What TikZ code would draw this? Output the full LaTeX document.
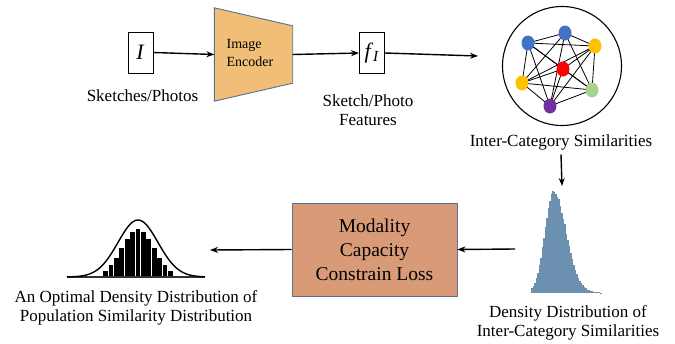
\documentclass[tikz,border=0pt]{standalone}
\usepackage{fontspec}
\setmainfont{Liberation Serif}
\usetikzlibrary{shapes.geometric,arrows,arrows.meta,positioning,calc,backgrounds}

\definecolor{encfill}{HTML}{F0BE76}
\definecolor{lossfill}{HTML}{D99A78}
\definecolor{edgeblue}{HTML}{5A6E96}
\definecolor{histblue}{HTML}{6B90B0}
\definecolor{dotblue}{HTML}{4472C4}
\definecolor{dotyellow}{HTML}{FFC000}
\definecolor{dotgreen}{HTML}{A9D18E}
\definecolor{dotpurple}{HTML}{7030A0}

\tikzstyle{featbox} = [draw=black, fill=white, line width=0.9pt, minimum width=25pt, minimum height=41pt, inner sep=0pt, font=\fontsize{22}{22}\selectfont]
\tikzstyle{lossbox} = [draw=edgeblue, fill=lossfill, line width=0.9pt, minimum width=165pt, minimum height=93pt, align=center, font=\fontsize{19.5}{24}\selectfont]
\tikzstyle{caption} = [align=center, inner sep=0pt, font=\fontsize{17}{19}\selectfont]
\tikzstyle{arrow} = [line width=1.4pt,->,>={Stealth[length=8pt,width=6pt]}]
\tikzstyle{dot} = [ellipse, minimum width=13pt, minimum height=15pt, inner sep=0pt]

\begin{document}
\begin{tikzpicture}[x=1pt,y=-1pt]
\useasboundingbox (0,0) rectangle (675,343);

% top row
\node[featbox] (img) at (140.5,52.5) {\textit{I}};
\node[minimum width=78pt, minimum height=93pt, inner sep=0pt] (enc) at (253.5,54.5) {};
\draw[fill=encfill, draw=edgeblue, line width=0.9pt] (enc.north west) -- ($(enc.north east)+(0,18)$)
  -- ($(enc.south east)+(0,-18)$) -- (enc.south west) -- cycle;
\node[align=left, font=\fontsize{14}{18}\selectfont] at (250,53) {Image\\Encoder};
\node[featbox] (feat) at (372,53) {\textit{f}\textsubscript{\textit{I}}};
\node[caption, anchor=base] (imglabel) at (142.5,101.5) {Sketches/Photos};
\node[caption] (featlabel) at (368,110) {Sketch/Photo\\Features};

\draw[arrow] (img.east) -- (enc.west);
\draw[arrow] (enc.east) -- (feat.west);
\coordinate (simin) at (478,56);
\draw[arrow] (feat.east) -- (simin);

% similarity graph
\node[draw, line width=1.1pt, circle, minimum size=119pt] (sim) at (562,66) {};
\node[dot, fill=dotblue] (n1) at (528,43) {};
\node[dot, fill=dotblue] (n2) at (565,33) {};
\node[dot, fill=dotyellow] (n3) at (595,46) {};
\node[dot, fill=red] (n4) at (563,69) {};
\node[dot, fill=dotyellow] (n5) at (522,83) {};
\node[dot, fill=dotgreen] (n6) at (592,90) {};
\node[dot, fill=dotpurple] (n7) at (550,106) {};
\begin{scope}[on background layer]
\foreach \a/\b in {1/2,1/3,1/4,1/5,1/6,1/7,2/3,2/5,2/6,2/7,3/4,3/5,3/6,3/7,4/5,4/6,4/7,5/6,5/7,6/7}
  \draw[line width=0.8pt] (n\a.center) -- (n\b.center);
\end{scope}
\node[caption, anchor=base] (simlabel) at (561,146.5) {Inter-Category Similarities};

% histogram of similarities
\pgfmathsetseed{7}
\foreach \i in {0,...,46}{
  \pgfmathsetmacro{\xl}{531+1.5*\i}
  \pgfmathsetmacro{\dd}{\xl+0.75-554}
  \pgfmathsetmacro{\hh}{\dd<0 ? 105*exp(-\dd*\dd/162) : 105*(0.88*exp(-\dd*\dd/300)+0.12*exp(-\dd/14))}
  \pgfmathsetmacro{\hr}{max(0,\hh*(0.96+0.06*rnd))}
  \fill[histblue] (\xl,293) rectangle ++(1.6,-\hr);
}
\coordinate (histtop) at (562,186);
\coordinate (histleft) at (515,249);
\draw[arrow] (simlabel.south) ++(0,4) -- (histtop);
\node[caption] (histlabel) at (568,323) {Density Distribution of\\Inter-Category Similarities};

% loss
\node[lossbox] (loss) at (374.5,249.5) {Modality\\Capacity\\Constrain Loss};
\draw[arrow] (histleft) -- (loss.east);
\coordinate (bellright) at (210,250);
\draw[arrow] (loss.west) -- (bellright);

% target distribution
\foreach \i in {0,...,12}{
  \pgfmathsetmacro{\xc}{138+5.4*(\i-6)}
  \pgfmathsetmacro{\hb}{48*exp(-(\xc-138)*(\xc-138)/512)}
  \fill[black] (\xc-2.4,277) rectangle (\xc+2.4,277-\hb);
}
\draw[line width=1.6pt, black!80] (67,277) -- (205,277);
\draw[line width=1.4pt, domain=67:205, samples=80, smooth] plot (\x,{277-57*exp(-(\x-138)*(\x-138)/800)});
\node[caption] (belllabel) at (136,308) {An Optimal Density Distribution of\\Population Similarity Distribution};
\end{tikzpicture}
\end{document}
